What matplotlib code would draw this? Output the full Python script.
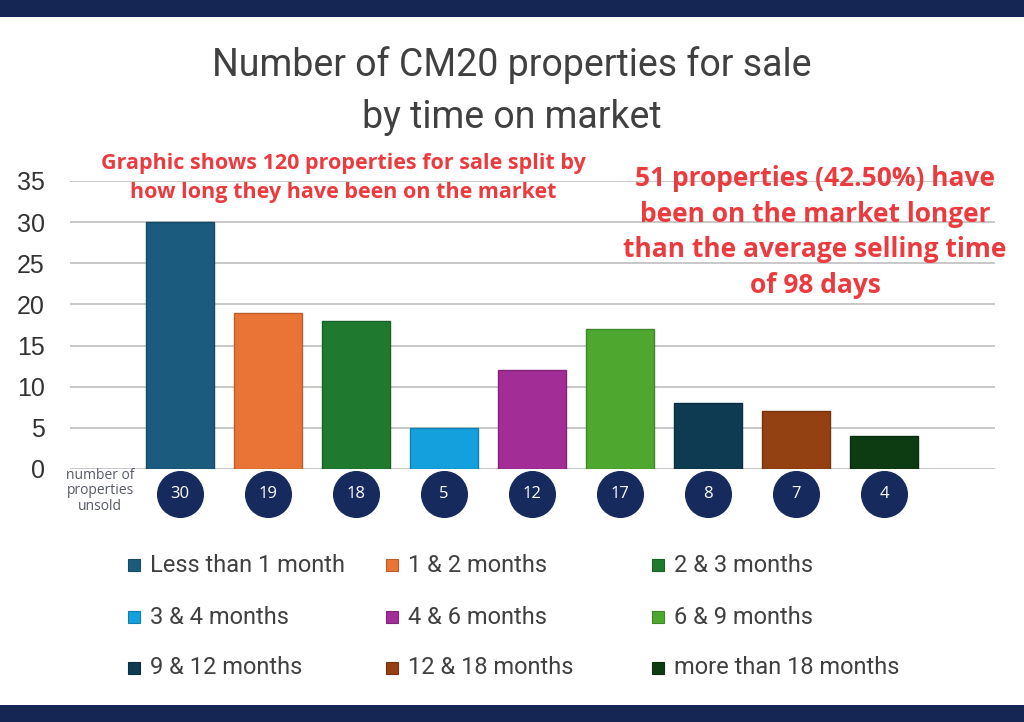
import matplotlib
matplotlib.use("Agg")
import matplotlib.pyplot as plt
from matplotlib.patches import Rectangle
from matplotlib.transforms import blended_transform_factory
import matplotlib.colors as mcolors

categories = ["Less than 1 month", "1 & 2 months", "2 & 3 months",
              "3 & 4 months", "4 & 6 months", "6 & 9 months",
              "9 & 12 months", "12 & 18 months", "more than 18 months"]
values = [30, 19, 18, 5, 12, 17, 8, 7, 4]
colors = ["#1b5c7e", "#e97435", "#1f7a30", "#14a0dc", "#a32d97",
          "#4ea82f", "#0e3a52", "#934012", "#0d3b12"]
yticks = [0, 5, 10, 15, 20, 25, 30, 35]

title = "Number of CM20 properties for sale\nby time on market"
note_left = "Graphic shows 120 properties for sale split by\nhow long they have been on the market"
note_right = ("51 properties (42.50%) have\nbeen on the market longer\n"
              "than the average selling time\nof 98 days")
row_label = "number of\nproperties\nunsold"

NAVY = "#152554"
RED = "#ec3b3f"
W, H = 1024, 722

fig = plt.figure(figsize=(10.24, 7.22), dpi=100)
fig.patch.set_facecolor("white")

# navy bands
fig.add_artist(Rectangle((0, 1 - 17 / H), 1, 17 / H, transform=fig.transFigure,
                         facecolor=NAVY, edgecolor="none"))
fig.add_artist(Rectangle((0, 0), 1, 17 / H, transform=fig.transFigure,
                         facecolor=NAVY, edgecolor="none"))

ax = fig.add_axes([70 / W, 1 - 469 / H, 925 / W, 288 / H])
x = list(range(len(values)))
edge = [tuple(max(0, c * 0.8) for c in mcolors.to_rgb(col)) for col in colors]
bars = ax.bar(x, values, width=0.77, color=colors, edgecolor=edge,
              linewidth=1.0, zorder=3)
ax.set_xlim(-1.25, 9.26)
ax.set_ylim(0, 35)
ax.set_yticks(yticks)
ax.set_xticks([])
ax.yaxis.grid(True, color="#c8c8c8", linewidth=1.4, zorder=0)
ax.set_axisbelow(True)
for s in ax.spines.values():
    s.set_visible(False)
ax.tick_params(axis="y", length=0, pad=18, labelsize=18, labelcolor="#333333")
for lab in ax.get_yticklabels():
    lab.set_fontfamily(["Liberation Sans", "DejaVu Sans"])

# circles with counts
trans = blended_transform_factory(ax.transData, ax.transAxes)
cy = -25 / 288
ax.scatter(x, [cy] * len(x), s=1080, color="#172a5e", transform=trans,
           clip_on=False, zorder=4)
for xi, v in zip(x, values):
    ax.text(xi, cy, str(v), transform=trans, ha="center", va="center",
            color="white", fontsize=12, family=["Open Sans", "DejaVu Sans"],
            zorder=5, clip_on=False)

fig.text(100 / W, 1 - 491 / H, row_label, ha="center", va="center",
         fontsize=10, color="#555a66", linespacing=1.05,
         family=["Open Sans", "DejaVu Sans"])

# title
fig.text(512 / W, 1 - 91 / H, title, ha="center", va="center",
         fontsize=27, color="#404040", linespacing=1.5,
         family=["Roboto", "DejaVu Sans"])

# annotations
fig.text(343 / W, 1 - 178 / H, note_left, ha="center", va="center",
         fontsize=15.5, color=RED, fontweight="bold", linespacing=1.5,
         family=["Open Sans", "DejaVu Sans"])
fig.text(815 / W, 1 - 232 / H, note_right, ha="center", va="center",
         fontsize=19, color=RED, fontweight="bold", linespacing=1.4,
         family=["Open Sans", "DejaVu Sans"])

# legend (row-wise layout)
col_x = [128, 386, 652]
row_y = [565, 617, 668]
for i, (cat, col) in enumerate(zip(categories, colors)):
    r, c = divmod(i, 3)
    mx, my = col_x[c], row_y[r]
    fig.add_artist(Rectangle((mx / W, 1 - (my + 6) / H), 12 / W, 12 / H,
                             transform=fig.transFigure, facecolor=col,
                             edgecolor=edge[i], linewidth=0.8))
    fig.text((mx + 22) / W, 1 - my / H, cat, ha="left", va="center",
             fontsize=17, color="#404040",
             family=["Roboto", "DejaVu Sans"])

fig.savefig("out.png", dpi=100, facecolor="white")
